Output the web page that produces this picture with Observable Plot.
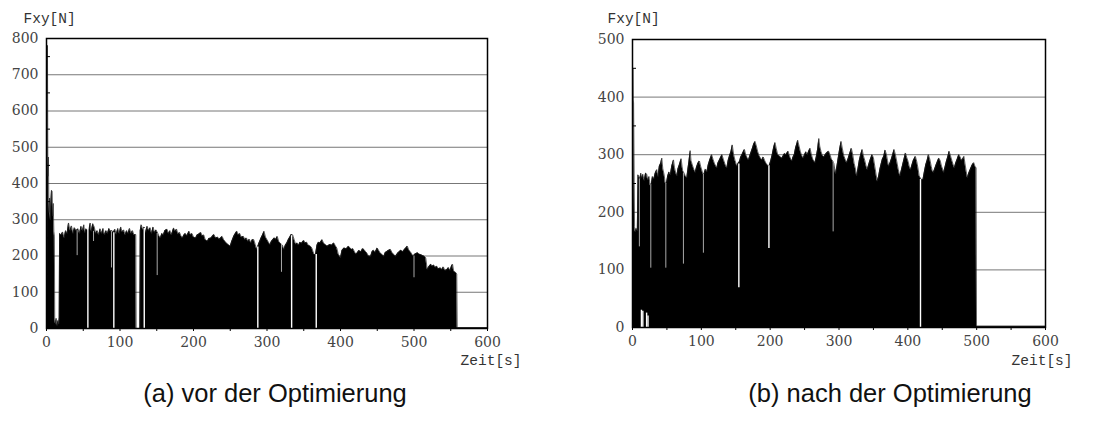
<!DOCTYPE html>
<html><head><meta charset="utf-8">
<script src="https://cdn.jsdelivr.net/npm/d3@7"></script>
<script src="https://cdn.jsdelivr.net/npm/@observablehq/plot@0.6"></script>
<style>
body{margin:0;background:#fff;}
#wrap{position:relative;width:1096px;height:424px;overflow:hidden;background:#fff;}
.chart{position:absolute;top:0;}
.cap{position:absolute;top:377px;width:420px;text-align:center;font-family:"Liberation Sans",Arial,sans-serif;font-size:25.5px;color:#111;line-height:32px;white-space:nowrap;}
</style></head><body>
<div id="wrap"></div>
<script>
// ---------- shared axis values ----------
const xTicks = [0,50,100,150,200,250,300,350,400,450,500,550,600];
const yLabelText = "Fxy[N]";
const xLabelText = "Zeit[s]";
const captionA = "(a) vor der Optimierung";
const captionB = "(b) nach der Optimierung";

// ---------- (a) vor der Optimierung ----------
const aYTicks = [0,100,200,300,400,500,600,700,800];
const aYGrid  = [100,200,300,400,500,600,700];
const aYMinor = [50,150,250,350,450,550,650,750];
const aT = [0,0.6,1.3,1.9,2.6,3.3,4.2,5.2,6.0,6.8,7.7,8.4,9.2,10.0,10.7,11.2,12.3,13.2,14.3,15.5,16.6,17.3,17.8,
20,22,24,26,28,30,32,34,36,38,40.5,42.8,45,47,49,50.8,52,54,55.9,58,59.5,61,63,65,67,69,71,73,75,77,79,81,83,85,87,89.2,91,93,95,97,99,
101,103,105,107,109,111,113,115,117,119,121.5,122,127,127.5,129,131,133,135,137,139,141,143,145,147,149,151.6,153,155,157,159,161,164,166,168,170,173,175,177,179,181,183,185,187,189,191,194,196,198,
200,203,205,207,210,212,214,216,219,221,224,226,228,230,233,235,237,239,241,243,245,247,250,252,255,257,259,261,263,265,268,270,272,274,276,278,280,282,284,286,289,292,294,296,298,
300,302,304,306,308,310,312,314,316,318,321,323,325,327,329,331,333,335,337,339,341,343,345,347,350,352,354,356,359,361,364,366,368,370,372,375,377,379,382,384,386,388,391,393,395,397,
400,402,405,408,411,413,415,417,419,421,423,425,428,430,432,434,436,438,441,443,445,447,450,452,454,456,459,461,463,465,468,470,472,475,478,480,482,485,487,489,491,493,495,497,499,
501,503,505,507,509,511,514,516,518,520,523,525,527,529,531,533,536,538,540,542,545,547,549,551,552.5,554,557,558.2,558.8,600];
const aF = [40,300,781,420,473,320,360,300,350,381,378,310,345,268,255,25,12,28,8,22,12,30,262,
258,266,250,270,262,291,270,283,262,278,270,275,262,282,270,286,264,275,270,275,291,268,289,280,262,270,258,275,262,276,258,270,262,276,268,270,265,274,260,276,262,
280,266,272,258,270,262,276,262,270,258,259,0,0,270,286,272,280,265,282,270,278,262,280,265,272,262,255,250,262,258,270,274,262,270,258,277,268,274,260,265,255,250,258,262,256,268,258,262,
252,250,258,260,265,255,258,245,241,248,250,255,259,250,252,246,250,254,245,240,235,232,227,240,255,262,268,258,262,252,254,245,250,240,246,236,245,245,232,218,235,250,258,268,252,
245,238,231,240,245,250,246,254,240,235,230,218,230,236,245,252,259,258,245,232,236,230,238,235,243,236,238,230,227,222,204,204,230,238,236,245,235,232,227,230,232,230,236,228,222,205,
195,215,222,220,227,222,218,220,212,205,209,215,212,220,218,212,208,200,199,212,216,210,222,215,208,205,199,210,212,215,218,210,205,199,208,212,216,212,218,222,227,216,212,205,200,
205,207,209,205,204,202,199,195,163,170,177,172,175,168,172,165,167,163,170,160,163,168,160,172,177,158,154,150,2,2];
const aGapT   = [56.3,91.6,133,287.5,333.5,367];
const aGapLow = [0,0,0,0,0,0];
const aGapTop = [278,264,276,225,256,204];
const aDipT   = [41.7,64,88.4,150.6,319.7,500];
const aDipLow = [201,240,167,146,155,140];
const aDipTop = [270,268,268,262,232,200];

// ---------- (b) nach der Optimierung ----------
const bYTicks = [0,100,200,300,400,500];
const bYGrid  = [100,200,300,400];
const bYMinor = [50,150,250,350,450];
const bT = [0,0.5,1.0,1.6,2.2,3,4,5.5,7,8,9.2,10.8,12,13.6,15,17,19,20.8,22,24,25.7,27.5,29,31,33,35.3,37,39,41,42.6,44,46,47.5,49.3,51,53,55,57,59.6,61,62.5,64.4,66,68,70.7,72,73,75,77,78.9,80.5,82,83.8,85,87,89,91,93,95,97.3,99,
101,102.3,103.8,106,108,110,112,115,117,119,121,122.5,124,126,128,130,132,134,135.5,137,139,141,143,145,147,149,151.6,153.5,155.5,157,159,161,162.7,164.5,166.5,168.5,170.5,172.5,174.5,176,178,180,182,184,186,188,190,192,194,196,197.6,199,
201,203,205,207,209,211,213,215,217,219,221,223,226,228,230,231.5,233,235,237,239,240,242,244,246,248,250,252,254,256,258,260,262,265,267,269,270.7,272,274,276,278,280,282,285,287,289,290.5,292.5,295,297,299,
301,303,305,307,309,311,313,315,318,320,322,324,325.6,327.5,329.5,331.5,333.7,335.5,337.5,339,341,343,345,348,350,352,354,355.5,357.5,359.5,361.5,363,365,367,369,370.5,372,374,376,378,380,382,384,386,388.4,390,392,394,396.6,398.5,
400.5,402,404,406,408,411,413,415,416.5,419.5,422,424,426,428,430,432,434,435.5,437,439,441,443,445,447,449,450.5,452,454,456,458,460,462,464,466,467.5,469.5,472,474,476,478,480,481.5,483,485,486.5,488.5,491,493.5,495.8,497.5,499.2,499.8,600];
const bF = [150,450,395,390,300,175,166,172,168,265,262,258,268,260,266,255,268,266,256,262,246,250,262,258,268,274,262,280,285,294,276,265,251,250,262,270,265,280,291,278,270,263,275,282,293,280,272,268,262,260,275,288,307,290,282,275,269,278,285,289,280,
272,266,266,275,270,282,290,300,292,285,280,277,285,290,295,300,292,285,280,277,290,298,305,317,300,290,280,285,288,295,300,305,309,300,295,291,298,305,312,318,323,315,305,298,294,291,296,290,285,282,280,282,
290,300,312,321,310,300,298,296,294,298,302,300,306,298,292,289,295,300,312,320,325,315,305,298,294,300,305,300,306,311,300,292,286,296,310,328,315,305,298,296,300,303,306,300,292,290,285,267,280,295,
310,323,310,298,292,286,292,300,311,300,285,275,263,275,290,300,309,298,290,282,274,282,290,300,295,280,265,254,262,275,285,292,297,308,300,290,280,285,292,300,309,300,288,275,263,270,280,290,303,295,
288,280,274,282,290,297,288,275,263,257,257,270,282,290,300,292,280,272,269,275,282,288,294,290,280,275,269,278,288,296,306,298,290,282,277,285,293,300,296,290,293,297,285,270,260,268,275,282,286,280,277,2,2];
const bGapT   = [154.5,198.2,418.4,13,15,20.5,22.5];
const bGapLow = [69,137,0,0,0,0,0];
const bGapTop = [284,281,257,30,28,25,20];
const bDipT   = [10,26.6,48.4,74,103,291.5];
const bDipLow = [140,103,103,110,129,166];
const bDipTop = [258,248,250,268,266,288];

function makeChart(o) {
  const env = o.t.map((x, i) => ({t: x, f: o.f[i]}));
  const gaps = o.gapT.map((x, i) => ({t: x, lo: o.gapLow[i], hi: o.gapTop[i]}));
  const dips = o.dipT.map((x, i) => ({t: x, lo: o.dipLow[i], hi: o.dipTop[i]}));
  const plotW = o.width - o.ml - o.mr;
  const svg = Plot.plot({
    width: o.width, height: 380,
    marginLeft: o.ml, marginRight: o.mr, marginTop: o.mt, marginBottom: o.mb,
    x: {domain: [0, 600], label: null},
    y: {domain: [0, o.yMax], label: null},
    style: {fontFamily: "'DejaVu Serif', serif", fontSize: "14px", color: "#000", background: "transparent", overflow: "visible"},
    marks: [
      Plot.ruleY(o.yGrid, {stroke: "#777", strokeWidth: 1}),
      Plot.areaY(env, {x: "t", y: "f", fill: "#000", curve: "linear"}),
      Plot.lineY(env, {x: "t", y: "f", stroke: "#222", strokeWidth: 0.7, curve: "linear"}),
      Plot.ruleX(dips, {x: "t", y1: "lo", y2: "hi", stroke: "#a8a8a8", strokeWidth: 1}),
      Plot.ruleX(gaps, {x: "t", y1: "lo", y2: "hi", stroke: "#fff", strokeWidth: 1.4}),
      Plot.tickY(o.yMinor, {y: d => d, stroke: "#000", strokeWidth: 1, insetRight: plotW - 4}),
      Plot.axisY({ticks: o.yTicks, tickSize: 0, tickPadding: 8, fill: "#444", fontSize: 14}),
      Plot.axisX({ticks: xTicks, tickSize: 3, tickPadding: 6, tickFormat: d => d % 100 === 0 ? String(d) : "", fill: "#444", fontSize: 14}),
      Plot.frame({stroke: "#000", strokeWidth: 1.5}),
      Plot.text([yLabelText], {text: d => d, frameAnchor: "top-left", dx: o.fxyDx, dy: o.fxyDy, lineAnchor: "top", textAnchor: "start", fontFamily: "'Liberation Mono', monospace", fontSize: 14.5, fill: "#333"}),
      Plot.text([xLabelText], {text: d => d, frameAnchor: "bottom-right", dx: o.zeitDx, dy: o.zeitDy, lineAnchor: "top", textAnchor: "end", fontFamily: "'Liberation Mono', monospace", fontSize: 14.5, fill: "#333"})
    ]
  });
  svg.classList.add("chart");
  svg.style.left = o.left + "px";
  return svg;
}

const wrap = document.getElementById("wrap");
wrap.appendChild(makeChart({
  t: aT, f: aF, gapT: aGapT, gapLow: aGapLow, gapTop: aGapTop, dipT: aDipT, dipLow: aDipLow, dipTop: aDipTop,
  yMax: 800, yTicks: aYTicks, yGrid: aYGrid, yMinor: aYMinor,
  width: 560, left: 0, ml: 46, mr: 73, mt: 38, mb: 52,
  fxyDx: -23, fxyDy: -26, zeitDx: 34, zeitDy: 26
}));
wrap.appendChild(makeChart({
  t: bT, f: bF, gapT: bGapT, gapLow: bGapLow, gapTop: bGapTop, dipT: bDipT, dipLow: bDipLow, dipTop: bDipTop,
  yMax: 500, yTicks: bYTicks, yGrid: bYGrid, yMinor: bYMinor,
  width: 536, left: 560, ml: 72, mr: 51, mt: 39, mb: 53,
  fxyDx: -25, fxyDy: -27, zeitDx: 27, zeitDy: 27
}));
const ca = document.createElement("div"); ca.className = "cap"; ca.style.left = "65px"; ca.textContent = captionA; wrap.appendChild(ca);
const cb = document.createElement("div"); cb.className = "cap"; cb.style.left = "680px"; cb.textContent = captionB; wrap.appendChild(cb);
</script>
</body></html>
